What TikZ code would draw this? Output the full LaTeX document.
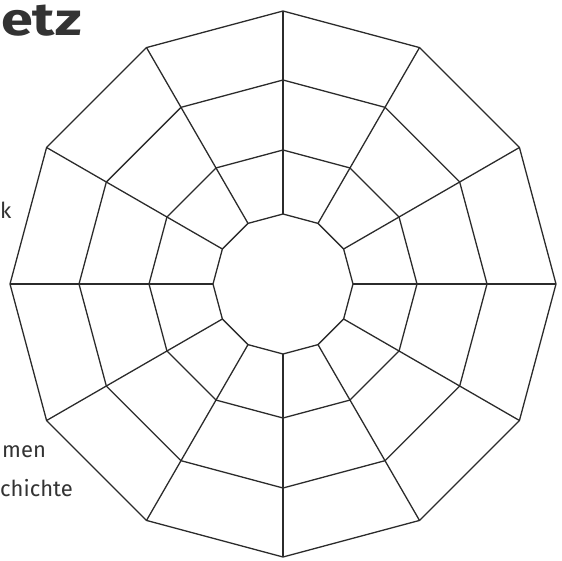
\documentclass[tikz,border=0pt]{standalone}
\usepackage{fontspec}
\setmainfont{Fira Sans}
\definecolor{webgray}{HTML}{2B2B2B}
\definecolor{txtgray}{HTML}{333333}
\begin{document}
\begin{tikzpicture}[x=1pt,y=-1pt,
  web/.style={draw=webgray, line width=1.3pt, line join=round},
  lbl/.style={text=txtgray, font=\fontsize{22}{26}\selectfont, inner sep=0pt},
  titlelbl/.style={text=txtgray, font=\fontsize{46}{50}\selectfont\bfseries, inner sep=0pt}]
\useasboundingbox (0,0) rectangle (562,560);
\coordinate (c) at (283,284);
\foreach \k in {0,...,11}{
  \foreach \r [count=\j] in {70,134,204,273}{
    \coordinate (p\j-\k) at ([shift={(\k*30:\r)}]c);
  }
}
% rings
\foreach \j in {1,...,4}{
  \draw[web] (p\j-0) \foreach \k in {1,...,11}{ -- (p\j-\k)} -- cycle;
}
% spokes
\foreach \k in {0,...,11}{
  \draw[web] (p1-\k) -- (p4-\k);
}
% texts
\node[titlelbl, anchor=base west, xscale=1.25] (title) at (1,35) {etz};
\node[lbl, anchor=base west] (tk) at (0,218) {k};
\node[lbl, anchor=base west] (tmen) at (2,457) {men};
\node[lbl, anchor=base west] (tgesch) at (0,496) {chichte};
\end{tikzpicture}
\end{document}
